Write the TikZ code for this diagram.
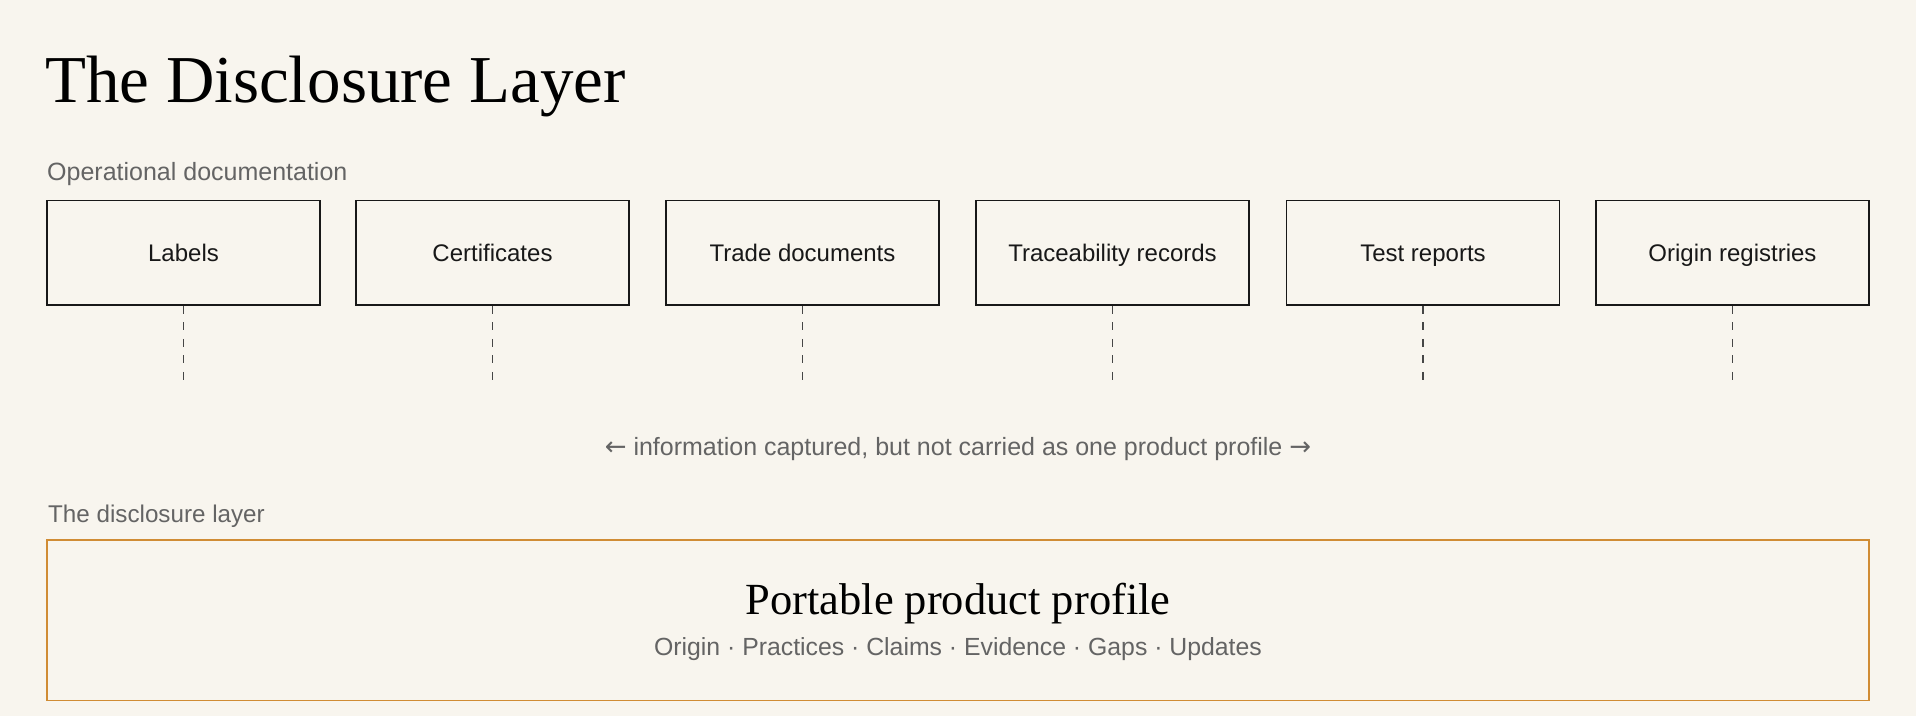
\documentclass[tikz,border=0pt]{standalone}
\usepackage{fontspec}
\usetikzlibrary{calc}
\setmainfont{Liberation Serif}
\newfontfamily\uisans{Liberation Sans}
\newfontfamily\uiserif{Liberation Serif}
\newfontfamily\arrowfont{DejaVu Sans}
\definecolor{bgcol}{RGB}{248,245,238}
\definecolor{inkcol}{RGB}{24,24,24}
\definecolor{graycol}{RGB}{100,100,100}
\definecolor{dashcol}{RGB}{70,70,70}
\definecolor{ambercol}{RGB}{208,140,52}
\tikzset{
  docbox/.style={draw=inkcol, line width=1.6pt, minimum width=273pt, minimum height=104.5pt,
    inner sep=0pt, text height=17pt, text depth=0pt, text=inkcol,
    font=\uisans\fontsize{24}{28}\selectfont},
  seclabel/.style={anchor=base west, inner sep=0pt, text=graycol,
    font=\uisans\fontsize{25}{30}\selectfont},
  linkdash/.style={draw=dashcol, line width=1.5pt, dash pattern=on 8pt off 8.5pt},
}
\begin{document}
\begin{tikzpicture}[x=1pt,y=-1pt]
\fill[bgcol] (0,0) rectangle (1916,716);
\useasboundingbox (0,0) rectangle (1916,716);

\node[anchor=base west, inner sep=0pt, text=black, font=\uiserif\fontsize{67}{80}\selectfont] (title) at (45,102) {The Disclosure Layer};

\node[seclabel] (opdoc) at (47,180) {Operational documentation};

\node[docbox] (b1) at (183.5,252.75) {Labels};
\node[docbox] (b2) at (492.5,252.75) {Certificates};
\node[docbox] (b3) at (802.5,252.75) {Trade documents};
\node[docbox] (b4) at (1112.5,252.75) {Traceability records};
\node[docbox] (b5) at (1423,252.75) {Test reports};
\node[docbox] (b6) at (1732.5,252.75) {Origin registries};

\foreach \i in {1,...,6} {
  \coordinate (d\i) at ($(b\i.south)+(0,75)$);
}
\foreach \i in {1,...,6} {
  \draw[linkdash] (b\i.south) -- (d\i);
}

\node[anchor=base, inner sep=0pt, text=graycol, font=\uisans\fontsize{25}{30}\selectfont] (note) at (958,455) {{\arrowfont\fontsize{26}{30}\selectfont ←} information captured, but not carried as one product profile {\arrowfont\fontsize{26}{30}\selectfont →}};

\node[seclabel, font=\uisans\fontsize{24.2}{30}\selectfont] (dislab) at (48,522) {The disclosure layer};

\node[draw=ambercol, line width=1.8pt, minimum width=1822pt, minimum height=160.5pt, inner sep=0pt] (layer) at (958,620.25) {};

\node[anchor=base, inner sep=0pt, text=black, font=\uiserif\fontsize{44.5}{52}\selectfont] (profile) at (958,614) {Portable product profile};
\node[anchor=base, inner sep=0pt, text=graycol, font=\uisans\fontsize{24.8}{30}\selectfont] (facets) at (958,655) {Origin · Practices · Claims · Evidence · Gaps · Updates};
\end{tikzpicture}
\end{document}
